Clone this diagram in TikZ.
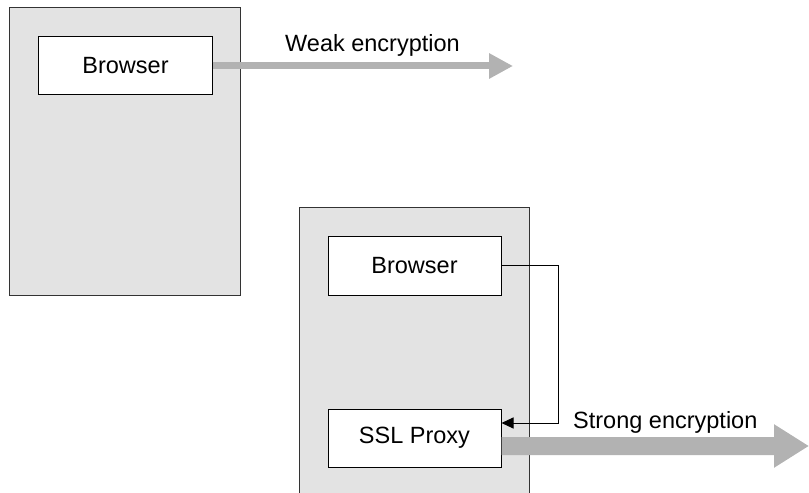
\documentclass[tikz,border=0pt]{standalone}
\usepackage{fontspec}
\setmainfont{Liberation Sans}
\usetikzlibrary{arrows.meta}
\begin{document}
\begin{tikzpicture}[x=1bp,y=-1bp,
  font=\fontsize{23.5bp}{28bp}\selectfont,
  host/.style={draw=black!80, fill=black!11, line width=1bp, inner sep=0pt, minimum width=230bp},
  app/.style={draw=black, fill=white, line width=1bp, minimum width=173bp, minimum height=58bp, inner sep=0pt},
  conn/.style={draw=black, line width=1bp, -{Triangle[length=12bp,width=11bp]}},
  weakarrow/.style={draw=black!30, line width=7bp, -{Triangle[length=24bp,width=24bp]}},
  strongarrow/.style={draw=black!30, line width=18bp, -{Triangle[length=35bp,width=41bp]}},
  lbl/.style={anchor=base west, inner sep=0pt}]
\useasboundingbox (0,0) rectangle (809,493);
\clip (0,0) rectangle (809,493);
% hosts
\node[host, minimum height=287bp] (pc1) at (125,151.5) {};
\node[host, minimum height=302bp] (pc2) at (414,359) {};
% applications
\node[app] (b1) at (125.5,66) {Browser};
\node[app] (b2) at (414.5,266) {Browser};
\node[app] (ssl) at (414.5,438) {SSL Proxy};
% end points of the open arrows
\coordinate (weakend) at (513,66);
\coordinate (strongend) at (809,446);
% arrows
\draw[weakarrow] (b1.east) -- (weakend);
\draw[strongarrow] ([yshift=-8bp]ssl.east) -- (strongend);
\draw[conn] (b2.east) -- ++(57,0) |- ([yshift=15bp]ssl.east);
% labels
\node[lbl] (weaklbl) at (285,52) {Weak encryption};
\node[lbl] (stronglbl) at (573,428) {Strong encryption};
\end{tikzpicture}
\end{document}
